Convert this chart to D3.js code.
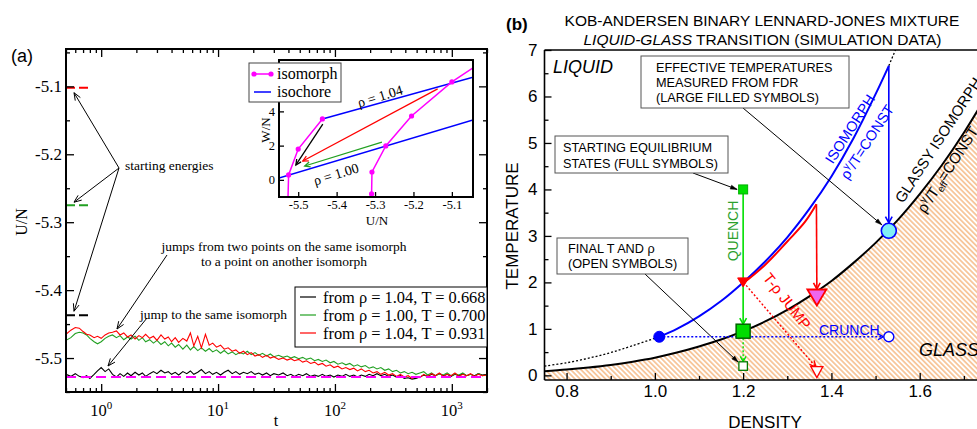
<!DOCTYPE html>
<html><head><meta charset="utf-8">
<script src="https://cdn.jsdelivr.net/npm/d3@7/dist/d3.min.js"></script>
<style>
html,body{margin:0;padding:0;background:#fff;}
svg{display:block;}
</style></head><body>
<svg id="fig" width="977" height="429" xmlns="http://www.w3.org/2000/svg"></svg>
<script>
// ================= DATA : panel (a) =================
const tValues = [
 0.5,0.55,0.6,0.65,0.7,0.75,0.8,0.87,0.93,1.0,
 1.08,1.16,1.25,1.35,1.45,1.56,1.68,1.8,1.95,2.1,
 2.25,2.4,2.6,2.8,3.0,3.25,3.5,3.75,4.0,4.3,
 4.6,5.0,5.4,5.8,6.2,6.7,7.2,7.8,8.4,9.0,
 9.7,10.5,11.3,12.2,13.2,14.2,15.3,16.5,17.8,19.2,
 20.7,22.3,24,26,28,30,33,36,39,42,
 45,49,53,57,62,67,72,78,84,91,
 98,106,115,124,134,145,156,168,182,196,
 212,229,247,267,288,311,336,363,392,423,
 457,493,533,575,621,671,724,782,845,912,
 985,1064,1149,1241,1340,1447,1563,1688,1823,2000];
const uRed = [
 -5.465,-5.459,-5.455,-5.456,-5.461,-5.465,-5.466,-5.470,-5.468,-5.471,
 -5.466,-5.463,-5.462,-5.460,-5.466,-5.463,-5.469,-5.466,-5.472,-5.467,
 -5.470,-5.465,-5.471,-5.468,-5.474,-5.466,-5.472,-5.469,-5.476,-5.470,
 -5.477,-5.471,-5.475,-5.463,-5.482,-5.468,-5.485,-5.465,-5.481,-5.478,
 -5.484,-5.481,-5.487,-5.485,-5.490,-5.488,-5.493,-5.490,-5.495,-5.492,
 -5.497,-5.495,-5.499,-5.496,-5.500,-5.498,-5.502,-5.500,-5.503,-5.501,
 -5.504,-5.502,-5.506,-5.504,-5.508,-5.506,-5.510,-5.508,-5.512,-5.510,
 -5.514,-5.512,-5.516,-5.514,-5.517,-5.515,-5.519,-5.516,-5.520,-5.518,
 -5.522,-5.520,-5.524,-5.521,-5.525,-5.523,-5.527,-5.524,-5.528,-5.526,
 -5.530,-5.527,-5.529,-5.524,-5.527,-5.523,-5.526,-5.522,-5.527,-5.524,
 -5.526,-5.522,-5.527,-5.524,-5.526,-5.523,-5.527,-5.524,-5.526,-5.525];
const uGreen = [
 -5.474,-5.470,-5.464,-5.462,-5.463,-5.466,-5.471,-5.476,-5.479,-5.476,
 -5.471,-5.468,-5.466,-5.470,-5.467,-5.473,-5.469,-5.472,-5.468,-5.474,
 -5.470,-5.476,-5.473,-5.478,-5.474,-5.480,-5.476,-5.482,-5.478,-5.484,
 -5.480,-5.487,-5.481,-5.488,-5.483,-5.489,-5.485,-5.490,-5.486,-5.491,
 -5.488,-5.493,-5.489,-5.494,-5.491,-5.495,-5.492,-5.494,-5.490,-5.495,
 -5.492,-5.496,-5.493,-5.497,-5.494,-5.498,-5.496,-5.499,-5.497,-5.500,
 -5.498,-5.501,-5.499,-5.502,-5.500,-5.504,-5.502,-5.505,-5.503,-5.507,
 -5.505,-5.509,-5.507,-5.510,-5.508,-5.512,-5.510,-5.513,-5.511,-5.515,
 -5.513,-5.516,-5.514,-5.518,-5.516,-5.520,-5.518,-5.522,-5.520,-5.523,
 -5.521,-5.524,-5.522,-5.520,-5.525,-5.522,-5.526,-5.523,-5.525,-5.522,
 -5.526,-5.523,-5.525,-5.522,-5.526,-5.524,-5.527,-5.523,-5.526,-5.525];
const uBlack = [
 -5.524,-5.527,-5.523,-5.527,-5.529,-5.526,-5.530,-5.524,-5.519,-5.514,
 -5.520,-5.516,-5.524,-5.528,-5.523,-5.527,-5.522,-5.526,-5.521,-5.525,
 -5.522,-5.527,-5.523,-5.520,-5.523,-5.518,-5.522,-5.520,-5.524,-5.521,
 -5.525,-5.520,-5.523,-5.519,-5.524,-5.521,-5.517,-5.523,-5.520,-5.524,
 -5.521,-5.525,-5.521,-5.518,-5.523,-5.520,-5.524,-5.521,-5.523,-5.520,
 -5.524,-5.522,-5.525,-5.522,-5.526,-5.523,-5.525,-5.522,-5.526,-5.524,
 -5.527,-5.524,-5.526,-5.523,-5.527,-5.525,-5.527,-5.524,-5.527,-5.525,
 -5.528,-5.525,-5.527,-5.524,-5.527,-5.525,-5.528,-5.525,-5.527,-5.524,
 -5.526,-5.523,-5.526,-5.524,-5.527,-5.525,-5.528,-5.526,-5.530,-5.529,
 -5.531,-5.530,-5.528,-5.525,-5.527,-5.524,-5.526,-5.523,-5.526,-5.524,
 -5.527,-5.524,-5.526,-5.523,-5.526,-5.524,-5.526,-5.523,-5.525,-5.524];
const uIsomorphLevel = -5.528;
const startEnergies = [-5.102, -5.275, -5.437];          // red, green, black
const startEnergyColors = ["#ff0000", "#22a022", "#000000"];
const startDashT = [0.5, 0.8];
const legendLabelsA = ["from ρ = 1.04, T = 0.668", "from ρ = 1.00, T = 0.700", "from ρ = 1.04, T = 0.931"];
const legendColorsA = ["#000000", "#22a022", "#ff0000"];
const xTicksA = [1, 10, 100, 1000];
const xTickExpA = ["0", "1", "2", "3"];
const yTicksA = [-5.5, -5.4, -5.3, -5.2, -5.1];
const yMinorA = [-5.55, -5.45, -5.35, -5.25, -5.15, -5.05];

// inset (W/N vs U/N)
const insetIsomorph1 = [[-5.527,-1.4],[-5.525,0.29],[-5.500,1.80],[-5.437,3.56]];
const insetIsomorph2 = [[-5.309,-0.82],[-5.308,0.46],[-5.272,1.98],[-5.205,3.73],[-5.100,5.72],[-5.030,6.77]];
const insetDots1 = [[-5.525,0.29],[-5.500,1.80],[-5.437,3.56]];
const insetDots2 = [[-5.309,-0.82],[-5.308,0.46],[-5.272,1.98],[-5.205,3.73],[-5.100,5.72]];
const insetIsochore104 = [[-5.437,3.56],[-5.045,6.0]];
const insetIsochore100 = [[-5.55,0.11],[-5.045,3.5]];
const insetJumpFrom = [[-5.137,5.31],[-5.282,2.21],[-5.436,3.26]];
const insetJumpTo   = [[-5.488,1.10],[-5.483,0.81],[-5.506,0.87]];
const insetJumpColors = ["#ff0000", "#22a022", "#000000"];
const insetXTicks = [-5.5, -5.4, -5.3, -5.2, -5.1];
const insetYTicks = [0, 2, 4, 6];

// ================= DATA : panel (b) =================
const glassLine = [[0.75,0.09],[0.8,0.125],[0.85,0.17],[0.9,0.225],[0.95,0.295],[1.0,0.38],[1.05,0.49],
  [1.1,0.62],[1.15,0.77],[1.2,0.95],[1.25,1.16],[1.3,1.41],[1.35,1.70],[1.4,2.03],[1.45,2.42],
  [1.5,2.85],[1.55,3.34],[1.6,3.90],[1.65,4.52],[1.7,5.22],[1.75,6.0],[1.8,6.85]];
const isomorphCurve = [[1.01,0.83],[1.05,1.0],[1.1,1.27],[1.15,1.6],[1.2,2.0],[1.25,2.45],[1.3,2.97],
  [1.35,3.58],[1.4,4.28],[1.45,5.1],[1.5,6.05],[1.53,6.66]];
const isomorphDottedLow = [[0.75,0.2],[0.8,0.27],[0.85,0.37],[0.9,0.49],[0.95,0.64],[1.01,0.83]];
const isomorphDottedHigh = [[1.53,6.66],[1.545,7.0]];
const jumpSegment = [[1.2,1.98],[1.25,2.38],[1.3,2.88],[1.34,3.3],[1.366,3.68]];
const startQuench = [1.2, 4.0], startJump = [1.2, 2.0], startCrunch = [1.01, 0.83];
const effQuench = [1.2, 0.95], effJump = [1.367, 1.675], effCrunch = [1.53, 3.11];
const finQuench = [1.2, 0.2], finJump = [1.367, 0.07], finCrunch = [1.53, 0.83];
const crunchTop = [1.53, 6.66];
const xTicksB = [0.8, 1.0, 1.2, 1.4, 1.6, 1.8];
const xMinorB = [0.9, 1.1, 1.3, 1.5, 1.7];
const yTicksB = [0, 1, 2, 3, 4, 5, 6, 7];
const yMinorB = [0.5, 1.5, 2.5, 3.5, 4.5, 5.5, 6.5];

// ================= DRAWING =================
const SERIF = '"Liberation Serif","Times New Roman",serif';
const SANS = '"Liberation Sans",Arial,Helvetica,sans-serif';
const svg = d3.select('#fig');
const defs = svg.append('defs');

function arrow(g, p1, p2, o = {}) {
  const stroke = o.stroke || '#000', w = o.width || 1, size = o.size || 8, spread = o.spread || 0.38;
  const a = Math.atan2(p2[1] - p1[1], p2[0] - p1[0]);
  const l = g.append('line').attr('x1', p1[0]).attr('y1', p1[1]).attr('x2', p2[0]).attr('y2', p2[1])
    .attr('stroke', stroke).attr('stroke-width', w);
  if (o.dash) l.attr('stroke-dasharray', o.dash);
  const L = [p2[0] - size * Math.cos(a - spread), p2[1] - size * Math.sin(a - spread)];
  const R = [p2[0] - size * Math.cos(a + spread), p2[1] - size * Math.sin(a + spread)];
  const p = g.append('path').attr('d', `M${L[0]},${L[1]}L${p2[0]},${p2[1]}L${R[0]},${R[1]}` + (o.filled ? 'Z' : ''));
  if (o.filled) p.attr('fill', stroke).attr('stroke', stroke).attr('stroke-width', 0.5);
  else p.attr('fill', 'none').attr('stroke', stroke).attr('stroke-width', o.headWidth || w);
}
function rich(g, parts, attrs) {
  const t = g.append('text');
  Object.entries(attrs).forEach(([k, v]) => t.attr(k, v));
  parts.forEach(p => {
    const s = t.append('tspan').text(p.t);
    if (p.dy) s.attr('dy', p.dy);
    if (p.size) s.attr('font-size', p.size);
    if (p.style) s.attr('font-style', p.style);
  });
  return t;
}
function styleAxis(g, font, size) {
  g.attr('font-family', font).attr('font-size', size);
  g.selectAll('.tick line').attr('stroke', '#000').attr('stroke-width', 1.3);
  g.selectAll('.tick text').attr('fill', '#000');
}

// ---------------- Panel (a) ----------------
const A = { left: 66, right: 487, top: 49, bottom: 392 };
const xA = d3.scaleLog().domain([0.5, 2000]).range([A.left, A.right]);
const yA = d3.scaleLinear().domain([-5.55, -5.045]).range([A.bottom, A.top]);
const gA = svg.append('g');
defs.append('clipPath').attr('id', 'clipA').append('rect')
  .attr('x', A.left).attr('y', A.top).attr('width', A.right - A.left).attr('height', A.bottom - A.top);
const dA = gA.append('g').attr('clip-path', 'url(#clipA)');
const lineA = d3.line().x(d => xA(d[0])).y(d => yA(d[1]));

[[uBlack, '#000000'], [uGreen, '#22a022'], [uRed, '#ff0000']].forEach(([u, c]) => {
  dA.append('path').datum(d3.zip(tValues, u)).attr('d', lineA)
    .attr('fill', 'none').attr('stroke', c).attr('stroke-width', 1.1);
});
dA.append('path').datum([[0.5, uIsomorphLevel], [2000, uIsomorphLevel]]).attr('d', lineA)
  .attr('fill', 'none').attr('stroke', '#ff00ff').attr('stroke-width', 2).attr('stroke-dasharray', '10,5');
startEnergies.forEach((u, i) => {
  dA.append('path').datum([[startDashT[0], u], [startDashT[1], u]]).attr('d', lineA)
    .attr('stroke', startEnergyColors[i]).attr('stroke-width', 2).attr('stroke-dasharray', '9,4');
});

// axes ticks
const minorLogA = xA.ticks().filter(v => !xTicksA.includes(v));
function tickAxis(g, gen, tr) { const a = g.append('g').attr('transform', tr).call(gen); a.select('.domain').remove(); return a; }
tickAxis(gA, d3.axisBottom(xA).tickValues(xTicksA).tickSizeInner(-8).tickSizeOuter(0).tickFormat(''), `translate(0,${A.bottom})`).call(styleAxis, SERIF, 16);
tickAxis(gA, d3.axisBottom(xA).tickValues(minorLogA).tickSizeInner(-4).tickSizeOuter(0).tickFormat(''), `translate(0,${A.bottom})`).call(styleAxis, SERIF, 16);
tickAxis(gA, d3.axisTop(xA).tickValues(xTicksA).tickSizeInner(-8).tickSizeOuter(0).tickFormat(''), `translate(0,${A.top})`).call(styleAxis, SERIF, 16);
tickAxis(gA, d3.axisTop(xA).tickValues(minorLogA).tickSizeInner(-4).tickSizeOuter(0).tickFormat(''), `translate(0,${A.top})`).call(styleAxis, SERIF, 16);
tickAxis(gA, d3.axisLeft(yA).tickValues(yTicksA).tickSizeInner(-8).tickSizeOuter(0).tickPadding(4).tickFormat(d => d.toFixed(1)), `translate(${A.left},0)`).call(styleAxis, SERIF, 17);
tickAxis(gA, d3.axisLeft(yA).tickValues(yMinorA).tickSizeInner(-4).tickSizeOuter(0).tickFormat(''), `translate(${A.left},0)`).call(styleAxis, SERIF, 16);
tickAxis(gA, d3.axisRight(yA).tickValues(yTicksA).tickSizeInner(-8).tickSizeOuter(0).tickFormat(''), `translate(${A.right},0)`).call(styleAxis, SERIF, 16);
tickAxis(gA, d3.axisRight(yA).tickValues(yMinorA).tickSizeInner(-4).tickSizeOuter(0).tickFormat(''), `translate(${A.right},0)`).call(styleAxis, SERIF, 16);
gA.append('rect').attr('x', A.left).attr('y', A.top).attr('width', A.right - A.left).attr('height', A.bottom - A.top)
  .attr('fill', 'none').attr('stroke', '#000').attr('stroke-width', 2);
xTicksA.forEach((v, i) => {
  rich(gA, [{ t: '10' }, { t: xTickExpA[i], dy: -7, size: 11 }],
    { x: xA(v), y: 416, 'text-anchor': 'middle', 'font-family': SERIF, 'font-size': 16.5 });
});
gA.append('text').attr('transform', 'translate(21,222) rotate(-90)').attr('text-anchor', 'middle').attr('dy', '0.35em')
  .attr('font-family', SERIF).attr('font-size', 16).text('U/N');
gA.append('text').attr('x', 276).attr('y', 426).attr('text-anchor', 'middle')
  .attr('font-family', SERIF).attr('font-size', 16).text('t');
gA.append('text').attr('x', 11).attr('y', 62).attr('font-family', SANS).attr('font-size', 18).text('(a)');

// annotations (a)
const annA = gA.append('g').attr('font-family', SERIF).attr('font-size', 13.5);
annA.append('text').attr('x', 125).attr('y', 170).text('starting energies');
annA.append('text').attr('x', 284).attr('y', 251).attr('text-anchor', 'middle').text('jumps from two points on the same isomorph');
annA.append('text').attr('x', 284).attr('y', 266).attr('text-anchor', 'middle').text('to a point on another isomorph');
annA.append('text').attr('x', 140).attr('y', 319).text('jump to the same isomorph');
startEnergies.forEach(u => arrow(gA, [119, 168], [74, yA(u) + (u > -5.2 ? 5 : (u > -5.4 ? -3 : -4))], { size: 8, width: 1 }));
arrow(gA, [167, 255], [117, 329], { size: 8, width: 1 });
arrow(gA, [147, 318], [108, 366], { size: 8, width: 1 });

// legend (a)
const lgA = gA.append('g');
lgA.append('rect').attr('x', 295).attr('y', 287).attr('width', 192).attr('height', 60)
  .attr('fill', '#fff').attr('stroke', '#000').attr('stroke-width', 1);
legendLabelsA.forEach((lab, i) => {
  const y = 297 + i * 18;
  lgA.append('line').attr('x1', 300).attr('x2', 316).attr('y1', y).attr('y2', y)
    .attr('stroke', legendColorsA[i]).attr('stroke-width', 1.2);
  lgA.append('text').attr('x', 323).attr('y', y + 5.5).attr('font-family', SERIF).attr('font-size', 16.4).text(lab);
});

// inset
const I = { left: 279, right: 473, top: 60, bottom: 197 };
const xI = d3.scaleLinear().domain([-5.55, -5.045]).range([I.left, I.right]);
const yI = d3.scaleLinear().domain([-1, 7]).range([I.bottom, I.top]);
const gI = svg.append('g');
gI.append('rect').attr('x', I.left).attr('y', I.top).attr('width', I.right - I.left).attr('height', I.bottom - I.top).attr('fill', '#fff');
defs.append('clipPath').attr('id', 'clipI').append('rect')
  .attr('x', I.left).attr('y', I.top).attr('width', I.right - I.left).attr('height', I.bottom - I.top);
const dI = gI.append('g').attr('clip-path', 'url(#clipI)');
const lineI = d3.line().x(d => xI(d[0])).y(d => yI(d[1]));
[insetIsochore104, insetIsochore100].forEach(d => dI.append('path').datum(d).attr('d', lineI)
  .attr('fill', 'none').attr('stroke', '#0000ff').attr('stroke-width', 1.5));
[insetIsomorph1, insetIsomorph2].forEach(d => dI.append('path').datum(d).attr('d', lineI)
  .attr('fill', 'none').attr('stroke', '#ff00ff').attr('stroke-width', 1.5));
insetDots1.concat(insetDots2).forEach(d => dI.append('circle').attr('cx', xI(d[0])).attr('cy', yI(d[1])).attr('r', 2.6).attr('fill', '#ff00ff'));
insetJumpFrom.forEach((f, i) => arrow(dI, [xI(f[0]), yI(f[1])], [xI(insetJumpTo[i][0]), yI(insetJumpTo[i][1])],
  { stroke: insetJumpColors[i], width: 1.3, size: 6, spread: 0.45 }));
tickAxis(gI, d3.axisBottom(xI).tickValues(insetXTicks).tickSizeInner(-5).tickSizeOuter(0).tickPadding(3).tickFormat(d => d.toFixed(1)), `translate(0,${I.bottom})`).call(styleAxis, SERIF, 12.5);
tickAxis(gI, d3.axisLeft(yI).tickValues(insetYTicks).tickSizeInner(-5).tickSizeOuter(0).tickPadding(4).tickFormat(d => d), `translate(${I.left},0)`).call(styleAxis, SERIF, 12.5);
gI.append('rect').attr('x', I.left).attr('y', I.top).attr('width', I.right - I.left).attr('height', I.bottom - I.top)
  .attr('fill', 'none').attr('stroke', '#000').attr('stroke-width', 2);
gI.append('text').attr('x', 377).attr('y', 225).attr('text-anchor', 'middle').attr('font-family', SERIF).attr('font-size', 13).text('U/N');
gI.append('text').attr('transform', 'translate(265,130) rotate(-90)').attr('text-anchor', 'middle').attr('dy', '0.35em')
  .attr('font-family', SERIF).attr('font-size', 13).text('W/N');
gI.append('text').attr('transform', 'translate(380,96) rotate(-17)').attr('text-anchor', 'middle').attr('dy', '0.35em')
  .attr('font-family', SERIF).attr('font-size', 14).text('ρ = 1.04');
gI.append('text').attr('transform', 'translate(336,174) rotate(-17)').attr('text-anchor', 'middle').attr('dy', '0.35em')
  .attr('font-family', SERIF).attr('font-size', 14).text('ρ = 1.00');
const lgI = gI.append('g');
lgI.append('rect').attr('x', 249).attr('y', 63).attr('width', 92).attr('height', 39)
  .attr('fill', '#fff').attr('stroke', '#444').attr('stroke-width', 1);
lgI.append('line').attr('x1', 254).attr('x2', 271).attr('y1', 74).attr('y2', 74).attr('stroke', '#ff00ff').attr('stroke-width', 1.5);
[254, 271].forEach(x => lgI.append('circle').attr('cx', x).attr('cy', 74).attr('r', 2.6).attr('fill', '#ff00ff'));
lgI.append('line').attr('x1', 254).attr('x2', 271).attr('y1', 92).attr('y2', 92).attr('stroke', '#0000ff').attr('stroke-width', 1.5);
lgI.append('text').attr('x', 277).attr('y', 79).attr('font-family', SERIF).attr('font-size', 16).text('isomorph');
lgI.append('text').attr('x', 277).attr('y', 97).attr('font-family', SERIF).attr('font-size', 16).text('isochore');

// ---------------- Panel (b) ----------------
const B = { left: 544.5, right: 1008, top: 50, bottom: 380, view: 977 };
const xB = d3.scaleLinear().domain([0.75, 1.8]).range([B.left, B.right]);
const yB = d3.scaleLinear().domain([-0.1, 7]).range([B.bottom, B.top]);
const gB = svg.append('g');
const P = d => [xB(d[0]), yB(d[1])];
defs.append('clipPath').attr('id', 'clipB').append('rect')
  .attr('x', B.left).attr('y', B.top).attr('width', B.view - B.left).attr('height', B.bottom - B.top);
const pat = defs.append('pattern').attr('id', 'hatch').attr('patternUnits', 'userSpaceOnUse')
  .attr('width', 3.6).attr('height', 3.6).attr('patternTransform', 'rotate(-45)');
pat.append('rect').attr('width', 3.6).attr('height', 3.6).attr('fill', '#fff');
pat.append('line').attr('x1', 1.8).attr('x2', 1.8).attr('y1', 0).attr('y2', 3.6).attr('stroke', '#f2a35c').attr('stroke-width', 1.1);

const dB = gB.append('g').attr('clip-path', 'url(#clipB)');
const curveB = d3.line().x(d => xB(d[0])).y(d => yB(d[1])).curve(d3.curveCatmullRom);
const areaB = d3.area().x(d => xB(d[0])).y0(yB(-0.1)).y1(d => yB(d[1])).curve(d3.curveCatmullRom);
dB.append('path').datum(glassLine).attr('d', areaB).attr('fill', 'url(#hatch)');
dB.append('path').datum(glassLine).attr('d', curveB).attr('fill', 'none').attr('stroke', '#000').attr('stroke-width', 2);
[isomorphDottedLow, isomorphDottedHigh].forEach(d => dB.append('path').datum(d).attr('d', curveB)
  .attr('fill', 'none').attr('stroke', '#000').attr('stroke-width', 1.3).attr('stroke-dasharray', '2,2'));

// callout boxes
const cb = gB.append('g').attr('font-family', SANS).attr('font-size', 12.7);
function callout(x, y, w, h, tx, lines, base, from, to) {
  arrow(cb, from, to, { size: 7, width: 1, filled: true, spread: 0.3 });
  cb.append('rect').attr('x', x).attr('y', y).attr('width', w).attr('height', h)
    .attr('fill', '#fff').attr('stroke', '#555').attr('stroke-width', 1);
  lines.forEach((l, i) => cb.append('text').attr('x', tx).attr('y', base[i]).text(l));
}
callout(641, 56, 208, 52, 656, ['EFFECTIVE TEMPERATURES', 'MEASURED FROM FDR', '(LARGE FILLED SYMBOLS)'], [71.5, 86.5, 101.5],
  [743, 108], [P(effCrunch)[0] - 7, P(effCrunch)[1] - 6]);
callout(555, 136, 173, 37, 563, ['STARTING EQUILIBRIUM', 'STATES (FULL SYMBOLS)'], [151.5, 167.5],
  [693, 173], [P(startQuench)[0] - 6, P(startQuench)[1]]);
callout(557, 238, 131, 36, 568, ['FINAL T AND ρ', '(OPEN SYMBOLS)'], [252.5, 267.5],
  [645, 274], [P(finQuench)[0] - 5, P(finQuench)[1] - 4]);

// isomorph + processes
dB.append('path').datum(isomorphCurve).attr('d', curveB).attr('fill', 'none').attr('stroke', '#0000ff').attr('stroke-width', 2);
dB.append('path').datum(jumpSegment).attr('d', curveB).attr('fill', 'none').attr('stroke', '#ff0000').attr('stroke-width', 2);
// quench
arrow(gB, P(startQuench), [P(effQuench)[0], P(effQuench)[1] - 7], { stroke: '#00e000', width: 1.6, size: 7, spread: 0.5 });
arrow(gB, [P(effQuench)[0], P(effQuench)[1] + 7], [P(finQuench)[0], P(finQuench)[1] - 4.5], { stroke: '#00e000', width: 1.4, size: 6, spread: 0.5, dash: '2,2', headWidth: 1.4 });
// T-rho jump
arrow(gB, P(jumpSegment[jumpSegment.length - 1]), [P(effJump)[0], P(effJump)[1] - 8.5], { stroke: '#ff0000', width: 1.6, size: 7, spread: 0.5 });
arrow(gB, [P(startJump)[0] + 3, P(startJump)[1] + 3], [P(finJump)[0] - 1, P(finJump)[1] - 5], { stroke: '#ff0000', width: 1.4, size: 7, spread: 0.45, dash: '2,2', headWidth: 1.4 });
// crunch
arrow(gB, P(crunchTop), [P(effCrunch)[0], P(effCrunch)[1] - 8], { stroke: '#0000ff', width: 1.6, size: 7, spread: 0.5 });
arrow(gB, P(startCrunch), [P(finCrunch)[0] - 5.5, P(finCrunch)[1]], { stroke: '#0000ff', width: 1.4, size: 6, spread: 0.5, dash: '2,2', headWidth: 1.4 });

// markers
function sq(c, s, fill, stroke, sw) {
  const p = P(c);
  gB.append('rect').attr('x', p[0] - s / 2).attr('y', p[1] - s / 2).attr('width', s).attr('height', s)
    .attr('fill', fill).attr('stroke', stroke).attr('stroke-width', sw);
}
function tri(c, w, h, fill, stroke, sw) {
  const p = P(c);
  gB.append('path').attr('d', `M${p[0] - w / 2},${p[1] - h / 2}L${p[0] + w / 2},${p[1] - h / 2}L${p[0]},${p[1] + h / 2}Z`)
    .attr('fill', fill).attr('stroke', stroke).attr('stroke-width', sw);
}
function circ(c, r, fill, stroke, sw) {
  const p = P(c);
  gB.append('circle').attr('cx', p[0]).attr('cy', p[1]).attr('r', r).attr('fill', fill).attr('stroke', stroke).attr('stroke-width', sw);
}
sq(startQuench, 9, '#00e000', '#00b000', 1);
sq(effQuench, 14, '#00dd00', '#006400', 1.5);
sq(finQuench, 8.5, '#fff', '#007a00', 1.3);
tri(startJump, 11, 9, '#ff0000', '#ff0000', 1);
tri(effJump, 19, 16, '#ee66ee', '#ff0000', 1.8);
tri(finJump, 12, 11, '#fff', '#ff0000', 1.3);
circ(startCrunch, 5.5, '#0000ff', '#0000ff', 1);
circ(effCrunch, 7.5, '#80eef5', '#0000ff', 1.6);
circ(finCrunch, 5, '#fff', '#0000ff', 1.4);

// texts (b)
const tB = gB.append('g').attr('font-family', SANS);
tB.append('text').attr('x', 553).attr('y', 73).attr('font-size', 18).attr('font-style', 'italic').text('LIQUID');
tB.append('text').attr('x', 919).attr('y', 356).attr('font-size', 18).attr('font-style', 'italic').text('GLASS');
tB.append('text').attr('transform', 'translate(733,231) rotate(-90)').attr('text-anchor', 'middle').attr('dy', '0.35em')
  .attr('font-size', 14).attr('fill', '#2ca02c').text('QUENCH');
tB.append('text').attr('x', 819).attr('y', 335).attr('font-size', 14).attr('fill', '#0000ff').text('CRUNCH');
tB.append('text').attr('transform', 'translate(850,129) rotate(-57)').attr('text-anchor', 'middle').attr('dy', '0.35em')
  .attr('font-size', 14.5).attr('fill', '#0000ff').text('ISOMORPH');
rich(tB, [{ t: 'ρ' }, { t: 'γ', dy: -6, size: 10 }, { t: '/T=CONST', dy: 6 }],
  { transform: 'translate(867,142) rotate(-57)', 'text-anchor': 'middle', dy: '0.35em', 'font-size': 14.5, fill: '#0000ff' });
tB.append('text').attr('transform', 'translate(787,301) rotate(52)').attr('text-anchor', 'middle').attr('dy', '0.35em')
  .attr('font-size', 15).attr('fill', '#ff0000').text('T-ρ JUMP');
tB.append('text').attr('transform', 'translate(903,204) rotate(-57)').attr('font-size', 15).text('GLASSY ISOMORPH');
rich(tB, [{ t: 'ρ' }, { t: 'γ', dy: -6, size: 10 }, { t: '/T', dy: 6 }, { t: 'eff', dy: 3, size: 10 }, { t: '=CONST', dy: -3 }],
  { transform: 'translate(925,214) rotate(-57)', 'font-size': 15 });

// axes (b)
const axB = gB.append('g');
tickAxis(axB, d3.axisBottom(xB).tickValues(xTicksB).tickSizeInner(-7).tickSizeOuter(0).tickPadding(5).tickFormat(d3.format('.1f')), `translate(0,${B.bottom})`).call(styleAxis, SANS, 17);
tickAxis(axB, d3.axisBottom(xB).tickValues(xMinorB).tickSizeInner(-4).tickSizeOuter(0).tickFormat(''), `translate(0,${B.bottom})`).call(styleAxis, SANS, 17);
tickAxis(axB, d3.axisLeft(yB).tickValues(yTicksB).tickSizeInner(-7).tickSizeOuter(0).tickPadding(7).tickFormat(d3.format('d')), `translate(${B.left},0)`).call(styleAxis, SANS, 17);
tickAxis(axB, d3.axisLeft(yB).tickValues(yMinorB).tickSizeInner(-4).tickSizeOuter(0).tickFormat(''), `translate(${B.left},0)`).call(styleAxis, SANS, 17);
axB.append('line').attr('x1', B.left).attr('x2', B.left).attr('y1', B.top).attr('y2', B.bottom).attr('stroke', '#000').attr('stroke-width', 1.6);
axB.append('line').attr('x1', B.left).attr('x2', B.view).attr('y1', B.bottom).attr('y2', B.bottom).attr('stroke', '#000').attr('stroke-width', 1.6);
axB.append('line').attr('x1', B.left).attr('x2', B.view).attr('y1', B.top).attr('y2', B.top).attr('stroke', '#000').attr('stroke-width', 1.6);
tB.append('text').attr('transform', 'translate(512,226) rotate(-90)').attr('text-anchor', 'middle').attr('dy', '0.35em')
  .attr('font-size', 17).text('TEMPERATURE');
tB.append('text').attr('x', 765).attr('y', 428).attr('text-anchor', 'middle').attr('font-size', 17).text('DENSITY');
tB.append('text').attr('x', 506).attr('y', 30).attr('font-size', 17).attr('font-weight', 'bold').text('(b)');
tB.append('text').attr('x', 762).attr('y', 25.5).attr('text-anchor', 'middle').attr('font-size', 15.5)
  .text('KOB-ANDERSEN BINARY LENNARD-JONES MIXTURE');
rich(tB, [{ t: 'LIQUID-GLASS', style: 'italic' }, { t: ' TRANSITION (SIMULATION DATA)' }],
  { x: 762.5, y: 44.5, 'text-anchor': 'middle', 'font-size': 15.5 });
</script>
</body></html>
